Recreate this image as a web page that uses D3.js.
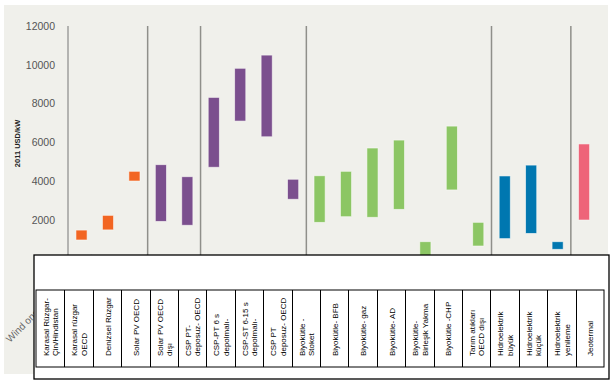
<!DOCTYPE html>
<html>
<head>
<meta charset="utf-8">
<script src="https://cdn.jsdelivr.net/npm/d3@7"></script>
<style>
  body { margin: 0; background: #fff; }
  svg { display: block; }
</style>
</head>
<body>
<div id="chart"></div>
<script>
// DATA
const categories = [
  "Karasal Rüzgar-|Çin/Hindistan", "Karasal rüzgar|OECD", "Denizsel Rüzgar",
  "Solar PV OECD", "Solar PV OECD|dışı",
  "CSP PT-|deposuz- OECD", "CSP-PT 6 s|depolmalı-", "CSP-ST 6-15 s|depolmalı-", "CSP PT|deposuz- OECD",
  "Biyokütle -|Stoket", "Biyokütle- BFB", "Biyokütle- gaz", "Biyokütle- AD",
  "Biyokütle-|Birleşik Yakma", "Biyokütle -CHP", "Tarım atıkları|OECD dışı",
  "Hidroelektrik|büyük", "Hidroelektrik|küçük", "Hidroelektrik|yenileme", "Jeotermal"
];
const groups = [
  "wind", "wind", "wind",
  "pv", "pv",
  "csp", "csp", "csp", "csp",
  "bio", "bio", "bio", "bio", "bio", "bio", "bio",
  "hydro", "hydro", "hydro", "geo"
];
const lowValues = [970, 1490, 4010, 1930, 1730, 4720, 7100, 6290, 3070, 1880, 2170, 2140, 2550, 100, 3550, 660, 1040, 1310, 490, 2000];
const highValues = [1480, 2240, 4510, 4850, 4230, 8320, 9820, 10500, 4100, 4280, 4510, 5710, 6120, 880, 6840, 1880, 4270, 4830, 880, 5920];
const yTicks = [2000, 4000, 6000, 8000, 10000, 12000];
const hiddenAxisLabel = "Wind onshore - China/India";

const groupColors = {
  wind: "#f26522", pv: "#7b4f8e", csp: "#7b4f8e",
  bio: "#8cc664", hydro: "#0077b0", geo: "#ee6479"
};

/***** SETUP *****/
const width = 613, height = 386;
const svg = d3.select("#chart").append("svg")
  .attr("width", width)
  .attr("height", height);

svg.append("rect")
  .attr("x", 4).attr("y", 5)
  .attr("width", 604).attr("height", 369)
  .attr("fill", "#f0f0eb");

/***** SCALES *****/
const x = d3.scaleBand()
  .domain(categories)
  .range([68.3, 597.3])
  .paddingInner(0.58)
  .paddingOuter(0.29);

const y = d3.scaleLinear()
  .domain([0, 12000])
  .range([258.8, 26]);

const data = categories.map((c, i) => ({
  cat: c, group: groups[i], low: lowValues[i], high: highValues[i]
}));

/***** AXIS *****/
const yAxis = svg.append("g")
  .attr("transform", "translate(68,0)")
  .call(d3.axisLeft(y).tickValues(yTicks).tickSize(0).tickPadding(13).tickFormat(d3.format("d")));
yAxis.select(".domain").remove();
yAxis.selectAll("text")
  .attr("fill", "#555")
  .style("font-family", "'Liberation Sans', Arial, sans-serif")
  .style("font-size", "10.5px");

svg.append("line")
  .attr("x1", 68).attr("x2", 68)
  .attr("y1", y(12000)).attr("y2", y(0))
  .attr("stroke", "#777").attr("stroke-width", 1);

svg.append("text")
  .attr("transform", `translate(20,${y(6000) + 1}) rotate(-90)`)
  .attr("text-anchor", "middle")
  .style("font-family", "'Liberation Sans', Arial, sans-serif")
  .style("font-size", "7.5px")
  .style("font-weight", "bold")
  .attr("fill", "#222")
  .text("2011 USD/kW");

// group separators (midway between neighbouring bars of different groups)
const step = x.step();
for (let i = 1; i < data.length; i++) {
  if (data[i - 1].group !== data[i].group) {
    const sx = x(data[i].cat) + x.bandwidth() / 2 - step / 2;
    svg.append("line")
      .attr("x1", sx).attr("x2", sx)
      .attr("y1", y(12000)).attr("y2", y(0))
      .attr("stroke", "#8f8f8a").attr("stroke-width", 1.5);
  }
}

/***** BARS *****/
svg.append("g").selectAll("rect")
  .data(data)
  .enter()
  .append("rect")
  .attr("x", d => x(d.cat))
  .attr("width", x.bandwidth())
  .attr("y", d => y(d.high))
  .attr("height", d => y(d.low) - y(d.high))
  .attr("fill", d => groupColors[d.group])
  .attr("stroke", "#fbfbf8")
  .attr("stroke-opacity", 0.7)
  .attr("stroke-width", 0.8);

// category axis label, mostly under the table
svg.append("text")
  .attr("transform", "translate(10,343) rotate(-45)")
  .attr("fill", "#666")
  .style("font-family", "'Liberation Sans', Arial, sans-serif")
  .style("font-size", "10px")
  .text(hiddenAxisLabel);

/***** LABEL TABLE *****/
const tx = d3.scaleBand()
  .domain(categories)
  .range([36, 604]);

const table = svg.append("g");
table.append("rect")
  .attr("x", 34).attr("y", 255)
  .attr("width", 575).attr("height", 124)
  .attr("fill", "#fff")
  .attr("stroke", "#000").attr("stroke-width", 1.3);

table.append("rect")
  .attr("x", 36).attr("y", 290)
  .attr("width", 568).attr("height", 77)
  .attr("fill", "none")
  .attr("stroke", "#000").attr("stroke-width", 1);

table.selectAll(".cellLine")
  .data(categories.slice(1))
  .enter()
  .append("line")
  .attr("class", "cellLine")
  .attr("x1", d => Math.round(tx(d)) + 0.5)
  .attr("x2", d => Math.round(tx(d)) + 0.5)
  .attr("y1", 290).attr("y2", 367)
  .attr("stroke", "#000").attr("stroke-width", 1);

categories.forEach(d => {
  const lines = d.split("|");
  const cx = tx(d) + tx.bandwidth() / 2;
  const lh = 9.5;
  lines.forEach((ln, k) => {
    const off = (k - (lines.length - 1) / 2) * lh + 3.5;
    table.append("text")
      .attr("transform", `translate(${cx + off},356) rotate(-90)`)
      .style("font-family", "'Liberation Sans', Arial, sans-serif")
      .style("font-size", "8px")
      .attr("fill", "#000")
      .text(ln);
  });
});
</script>
</body>
</html>
